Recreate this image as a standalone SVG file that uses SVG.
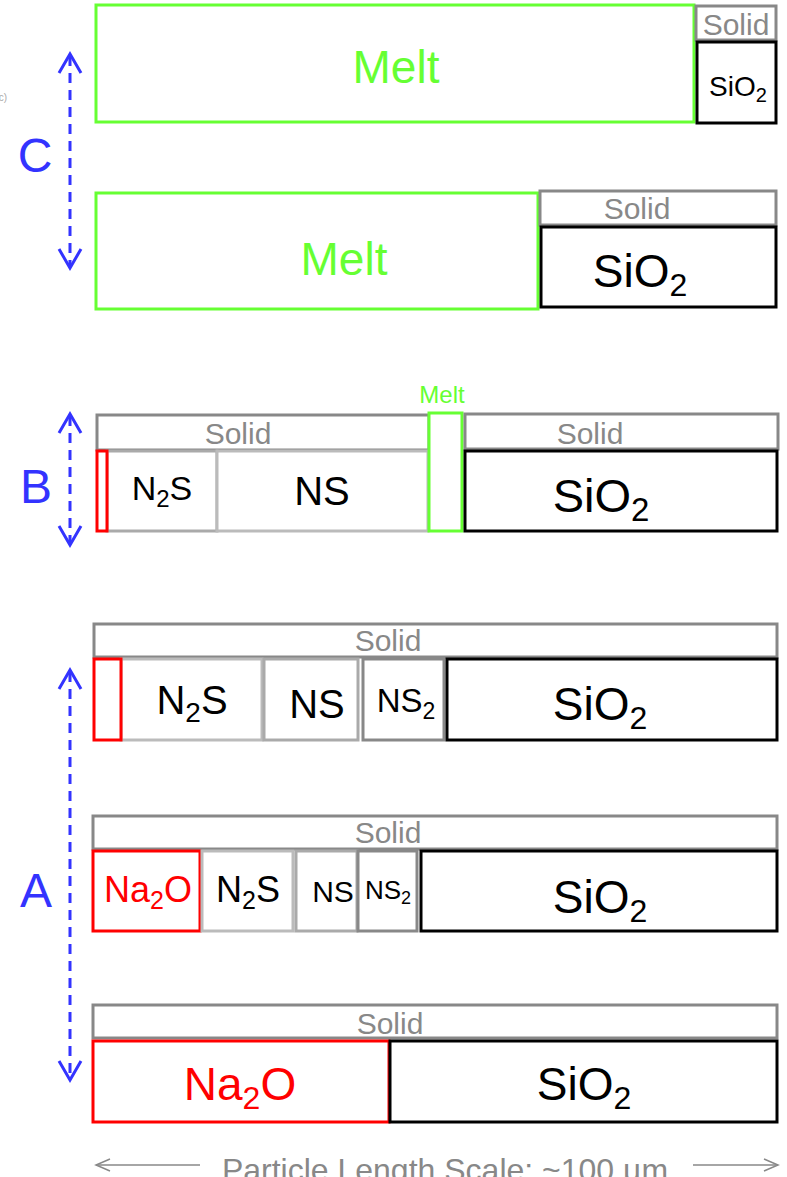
<svg xmlns="http://www.w3.org/2000/svg" width="787" height="1177" viewBox="0 0 787 1177">
<style>
text{font-family:"Liberation Sans",Arial,sans-serif;text-anchor:middle}
.box{fill:#fff;stroke-width:3}
.solid{stroke:#888}
.melt{stroke:#66ff33}
.red{stroke:#ff0000}
.blk{stroke:#000}
.g1{stroke:#bbb}
.g2{stroke:#aaa}
.g3{stroke:#888}
.st{fill:#888;font-size:30px}
.k{fill:#000}
.lab{fill:#3333ff;font-size:48px}
.dash{stroke:#3333ff;stroke-width:3;fill:none;stroke-dasharray:10 7}
.head{stroke:#3333ff;stroke-width:3;fill:none}
</style>
<rect width="787" height="1177" fill="#fff"/>
<text x="3" y="101" style="font-size:10px;fill:#aaa">c)</text>

<g id="connectors">
  <line class="dash" x1="70" y1="56" x2="70" y2="266"/>
  <polyline class="head" points="59,73 70,54 81,73"/>
  <polyline class="head" points="59,249 70,268 81,249"/>
  <line class="dash" x1="70" y1="416" x2="70" y2="543"/>
  <polyline class="head" points="59,433 70,414 81,433"/>
  <polyline class="head" points="59,526 70,545 81,526"/>
  <line class="dash" x1="70" y1="672" x2="70" y2="1078"/>
  <polyline class="head" points="59,689 70,670 81,689"/>
  <polyline class="head" points="59,1061 70,1080 81,1061"/>
  <g stroke="#888" stroke-width="1.5" fill="none">
    <line x1="96" y1="1165" x2="200" y2="1165"/>
    <polyline points="110,1159 96,1165 110,1171"/>
    <line x1="693" y1="1165" x2="778" y2="1165"/>
    <polyline points="764,1159 778,1165 764,1171"/>
  </g>
</g>

<g id="label-C"><text class="lab" x="35" y="172">C</text></g>
<g id="label-B"><text class="lab" x="36" y="503">B</text></g>
<g id="label-A"><text class="lab" x="36" y="907">A</text></g>

<g id="rowC1">
  <rect class="box melt" x="96" y="5" width="598" height="117"/>
  <text x="396" y="83" style="font-size:46px;fill:#66ff33">Melt</text>
  <rect class="box solid" x="696" y="6" width="80" height="34"/>
  <text class="st" x="736" y="35">Solid</text>
  <rect class="box blk" x="697" y="42" width="79" height="81"/>
  <text class="k" x="738" y="96" style="font-size:28px">SiO<tspan dy="6" font-size="20">2</tspan></text>
</g>

<g id="rowC2">
  <rect class="box melt" x="96" y="193" width="442" height="116"/>
  <text x="344" y="275" style="font-size:46px;fill:#66ff33">Melt</text>
  <rect class="box solid" x="540" y="191" width="236" height="34"/>
  <text class="st" x="637" y="219">Solid</text>
  <rect class="box blk" x="541" y="227" width="235" height="80"/>
  <text class="k" x="640" y="287" style="font-size:46px">SiO<tspan dy="9" font-size="32">2</tspan></text>
</g>

<g id="rowB">
  <rect class="box solid" x="97" y="415" width="332" height="35"/>
  <text class="st" x="238" y="444">Solid</text>
  <rect class="box g2" x="107" y="451" width="110" height="80"/>
  <text class="k" x="162" y="500" style="font-size:34px">N<tspan dy="7" font-size="24">2</tspan><tspan dy="-7">S</tspan></text>
  <rect class="box g1" x="217" y="451" width="211" height="80"/>
  <text class="k" x="322" y="505" style="font-size:40px">NS</text>
  <rect class="box red" x="97" y="451" width="10" height="80"/>
  <rect class="box melt" x="429" y="413" width="33" height="118"/>
  <text x="442" y="403" style="font-size:24px;fill:#66ff33">Melt</text>
  <rect class="box solid" x="465" y="414" width="313" height="35"/>
  <text class="st" x="590" y="444">Solid</text>
  <rect class="box blk" x="465" y="451" width="312" height="80"/>
  <text class="k" x="601" y="512" style="font-size:47px">SiO<tspan dy="9" font-size="33">2</tspan></text>
</g>

<g id="rowA1">
  <rect class="box solid" x="94" y="624" width="683" height="33"/>
  <text class="st" x="388" y="651">Solid</text>
  <rect class="box g1" x="121" y="659" width="141" height="81"/>
  <text class="k" x="192" y="714" style="font-size:40px">N<tspan dy="8" font-size="28">2</tspan><tspan dy="-8">S</tspan></text>
  <rect class="box g2" x="264" y="659" width="94" height="81"/>
  <text class="k" x="317" y="718" style="font-size:40px">NS</text>
  <rect class="box g3" x="363" y="659" width="81" height="81"/>
  <text class="k" x="406" y="712" style="font-size:33px">NS<tspan dy="7" font-size="23">2</tspan></text>
  <rect class="box blk" x="447" y="659" width="330" height="81"/>
  <text class="k" x="600" y="720" style="font-size:46px">SiO<tspan dy="9" font-size="32">2</tspan></text>
  <rect class="box red" x="94" y="659" width="27" height="81"/>
</g>

<g id="rowA2">
  <rect class="box solid" x="93" y="816" width="684" height="33"/>
  <text class="st" x="388" y="843">Solid</text>
  <rect class="box red" x="93" y="851" width="107" height="80"/>
  <text x="148" y="902" style="font-size:36px;fill:#ff0000">Na<tspan dy="7" font-size="25">2</tspan><tspan dy="-7">O</tspan></text>
  <rect class="box g1" x="202" y="851" width="91" height="80"/>
  <text class="k" x="248" y="902" style="font-size:36px">N<tspan dy="7" font-size="25">2</tspan><tspan dy="-7">S</tspan></text>
  <rect class="box g2" x="296" y="851" width="61" height="80"/>
  <text class="k" x="333" y="902" style="font-size:30px">NS</text>
  <rect class="box g3" x="358" y="851" width="59" height="80"/>
  <text class="k" x="388" y="899" style="font-size:26px">NS<tspan dy="5" font-size="18">2</tspan></text>
  <rect class="box blk" x="421" y="851" width="356" height="80"/>
  <text class="k" x="600" y="913" style="font-size:46px">SiO<tspan dy="9" font-size="32">2</tspan></text>
</g>

<g id="rowA3">
  <rect class="box solid" x="93" y="1005" width="684" height="33"/>
  <text class="st" x="390" y="1034">Solid</text>
  <rect class="box red" x="93" y="1041" width="296" height="81"/>
  <text x="240" y="1100" style="font-size:46px;fill:#ff0000">Na<tspan dy="9" font-size="32">2</tspan><tspan dy="-9">O</tspan></text>
  <rect class="box blk" x="390" y="1041" width="387" height="81"/>
  <text class="k" x="584" y="1100" style="font-size:46px">SiO<tspan dy="9" font-size="32">2</tspan></text>
</g>

<g id="scale">
  <text x="445" y="1181" style="font-size:32px;fill:#888">Particle Length Scale: ~100 µm</text>
</g>
</svg>
